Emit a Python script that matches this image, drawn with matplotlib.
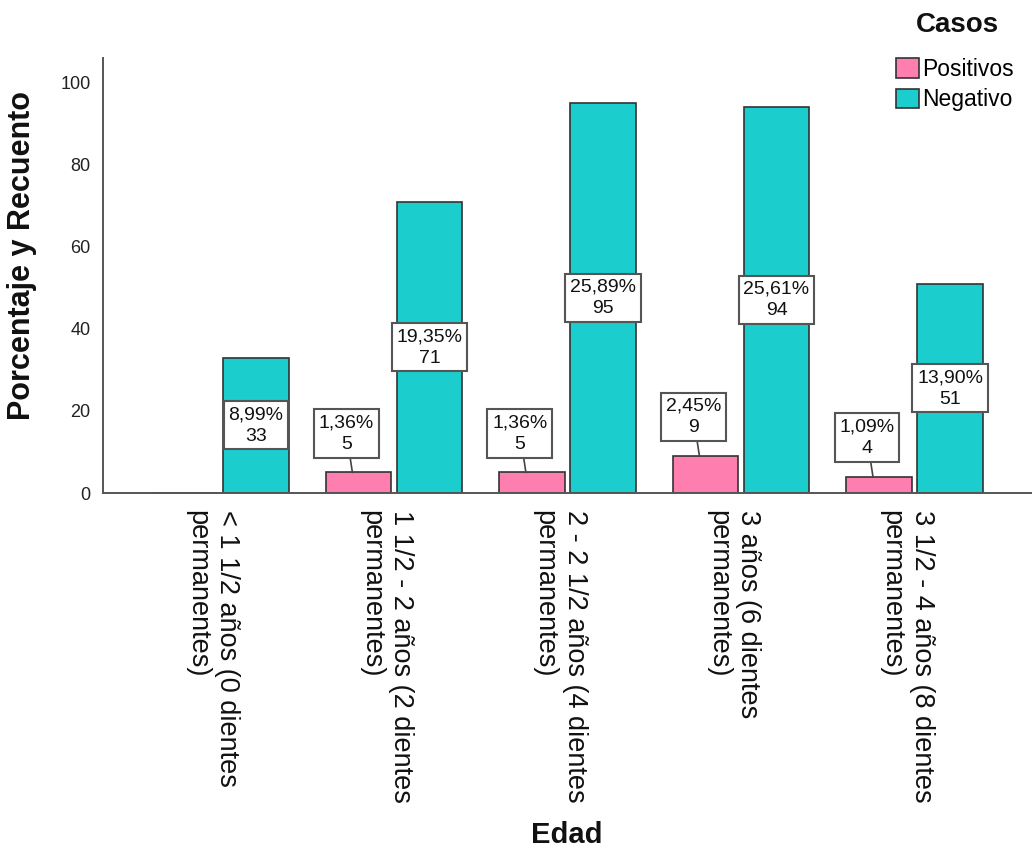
import numpy as np
import matplotlib
matplotlib.use('Agg')
import matplotlib.pyplot as plt
import matplotlib.transforms as mtransforms

plt.rcParams['font.family'] = ['Liberation Sans', 'DejaVu Sans']

# datos
edades = ['< 1 1/2 años (0 dientes\npermanentes)',
          '1 1/2 - 2 años (2 dientes\npermanentes)',
          '2 - 2 1/2 años (4 dientes\npermanentes)',
          '3 años (6 dientes\npermanentes)',
          '3 1/2 - 4 años (8 dientes\npermanentes)']
positivos = [0, 5, 5, 9, 4]
negativos = [33, 71, 95, 94, 51]
pct_pos = ['0,00%', '1,36%', '1,36%', '2,45%', '1,09%']
pct_neg = ['8,99%', '19,35%', '25,89%', '25,61%', '13,90%']

col_pos = '#ff7eb0'
col_neg = '#1ccdcd'

fig = plt.figure(figsize=(10.32, 8.49), dpi=100)
ax = fig.add_axes([103/1032, 1-493/849, 1-103/1032, (493-58)/849])

x = np.arange(len(edades))
w = 0.375
off = 0.2046
b1 = ax.bar(x-off, positivos, w, color=col_pos, edgecolor='#333333', lw=1.2, label='Positivos')
b2 = ax.bar(x+off, negativos, w, color=col_neg, edgecolor='#333333', lw=1.2, label='Negativo')

ax.set_xlim(-0.677, len(edades)-1+0.677)
ax.set_ylim(0, 106)

box = dict(boxstyle='square,pad=0.25', fc='white', ec='#555555', lw=1.5)
for xi, v, p in zip(x, negativos, pct_neg):
    ax.text(xi+off, v/2, f'{p}\n{v}', ha='center', va='center', fontsize=14,
            linespacing=1.35, color='#111111', bbox=box)
for xi, v, p in zip(x, positivos, pct_pos):
    if v == 0:
        continue
    ax.annotate(f'{p}\n{v}', xy=(xi-off-0.035, v), xytext=(-6, 39),
                textcoords='offset pixels', ha='center', va='center', fontsize=14,
                linespacing=1.35, color='#111111', bbox=box,
                arrowprops=dict(arrowstyle='-', color='#444444', lw=1.2,
                                shrinkA=0, shrinkB=0))

for s in ['top', 'right']:
    ax.spines[s].set_visible(False)
for s in ['left', 'bottom']:
    ax.spines[s].set_color('#555555')
    ax.spines[s].set_linewidth(1.4)

ax.set_yticks([0, 20, 40, 60, 80, 100])
ax.tick_params(axis='y', length=0, pad=9, labelsize=13, labelcolor='#222222')
ax.set_xticks(x)
ax.set_xticklabels(edades, rotation=-90, va='top', ha='center',
                   multialignment='left', fontsize=19.5, color='#111111')
ax.tick_params(axis='x', length=0, pad=12)
shift = mtransforms.ScaledTranslation(-8/100, 0, fig.dpi_scale_trans)
for lab in ax.get_xticklabels():
    lab.set_transform(lab.get_transform() + shift)

fig.text(22/1032, 1-256/849, 'Porcentaje y Recuento', rotation=90, ha='center',
         va='center', fontsize=22, fontweight='bold', color='#111111')
fig.text(567/1032, 1-835/849, 'Edad', ha='center', va='center', fontsize=21,
         fontweight='bold', color='#111111')

fig.text(957/1032, 1-25/849, 'Casos', ha='center', va='center', fontsize=20,
         fontweight='bold', color='#111111')
leg = fig.legend(handles=[b1, b2], loc='upper left',
                 bbox_to_anchor=(896/1032, 1-58/849), frameon=False, fontsize=16.5,
                 handlelength=1.0, handleheight=0.95, handletextpad=0.15,
                 labelspacing=0.32, borderaxespad=0, borderpad=0)

fig.savefig('out.png', dpi=100)
